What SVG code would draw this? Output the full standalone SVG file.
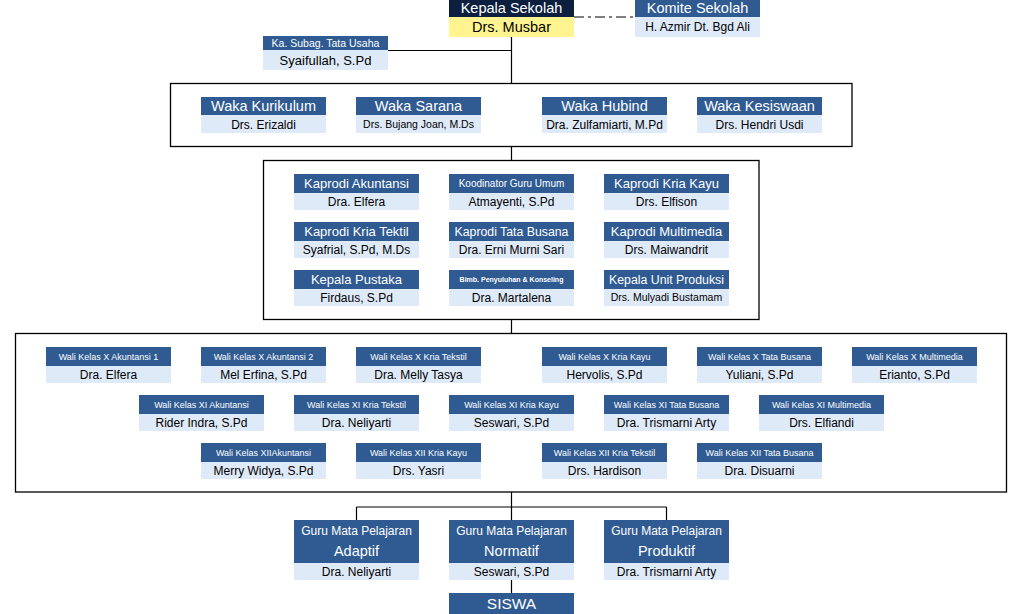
<svg xmlns="http://www.w3.org/2000/svg" width="1023" height="614" viewBox="0 0 1023 614">
<style>
.hd{fill:#2f5b92}
.bd{fill:#dfeaf8}
.frame{fill:none;stroke:#000;stroke-width:1.3}
.ln{fill:none;stroke:#000;stroke-width:1.2}
text{font-family:"Liberation Sans",Arial,sans-serif;text-anchor:middle}
.ht{fill:#fff}
.bt{fill:#000}
.h145{font-size:14.5px}
.h13{font-size:13px}
.b12{font-size:12px}
.w9{font-size:9px}
</style>
<rect width="1023" height="614" fill="#fff"/>
<g id="containers">
<rect class="frame" x="170.5" y="83.5" width="681.5" height="63"/>
<rect class="frame" x="263.5" y="160.5" width="495.5" height="159"/>
<rect class="frame" x="15.5" y="333.5" width="991" height="158.5"/>
</g>
<g id="connectors">
<path class="ln" d="M511.5 37V83.5M388 50.5H511.5M511.5 146.5V160.5M511.5 319.5V333.5M511.5 492V520M356.5 507H666.5M356.5 507V520M666.5 507V520M511.5 580V593"/>
<path class="ln" d="M574 17H635" stroke-dasharray="10,4,3,4"/>
</g>
<g id="kepala-sekolah">
<rect x="449" y="0" width="125" height="17" fill="#0c1f3f"/>
<rect x="449" y="17" width="125" height="20" fill="#fff48f"/>
<text class="ht h145" x="511.5" y="13">Kepala Sekolah</text>
<text class="bt h145" x="511.5" y="32">Drs. Musbar</text>
</g>
<g id="komite-sekolah">
<rect class="hd" x="635" y="0" width="125" height="17"/>
<rect class="bd" x="635" y="17" width="125" height="20"/>
<text class="ht h145" x="697.5" y="13">Komite Sekolah</text>
<text class="bt b12" x="697.5" y="31">H. Azmir Dt. Bgd Ali</text>
</g>
<g id="ka-subag">
<rect class="hd" x="263" y="36" width="125" height="14"/>
<rect class="bd" x="263" y="50" width="125" height="20"/>
<text class="ht" style="font-size:10.5px" x="325.5" y="47">Ka. Subag. Tata Usaha</text>
<text class="bt h13" x="325.5" y="64.5">Syaifullah, S.Pd</text>
</g>
<g id="waka-kurikulum">
<rect class="hd" x="201" y="97" width="125" height="18"/>
<rect class="bd" x="201" y="115" width="125" height="18"/>
<text class="ht h145" x="263.5" y="111">Waka Kurikulum</text>
<text class="bt b12" x="263.5" y="128.5">Drs. Erizaldi</text>
</g>
<g id="waka-sarana">
<rect class="hd" x="356" y="97" width="125" height="18"/>
<rect class="bd" x="356" y="115" width="125" height="18"/>
<text class="ht h145" x="418.5" y="111">Waka Sarana</text>
<text class="bt" style="font-size:10.5px" x="418.5" y="128">Drs. Bujang Joan, M.Ds</text>
</g>
<g id="waka-hubind">
<rect class="hd" x="542" y="97" width="125" height="18"/>
<rect class="bd" x="542" y="115" width="125" height="18"/>
<text class="ht h145" x="604.5" y="111">Waka Hubind</text>
<text class="bt b12" x="604.5" y="128.5">Dra. Zulfamiarti, M.Pd</text>
</g>
<g id="waka-kesiswaan">
<rect class="hd" x="697" y="97" width="125" height="18"/>
<rect class="bd" x="697" y="115" width="125" height="18"/>
<text class="ht h145" x="759.5" y="111">Waka Kesiswaan</text>
<text class="bt b12" x="759.5" y="128.5">Drs. Hendri Usdi</text>
</g>
<g id="kaprodi-akuntansi">
<rect class="hd" x="294" y="174" width="125" height="19"/>
<rect class="bd" x="294" y="193" width="125" height="17"/>
<text class="ht h13" x="356.5" y="188">Kaprodi Akuntansi</text>
<text class="bt b12" x="356.5" y="205.5">Dra. Elfera</text>
</g>
<g id="koordinator-guru-umum">
<rect class="hd" x="449" y="174" width="125" height="19"/>
<rect class="bd" x="449" y="193" width="125" height="17"/>
<text class="ht" style="font-size:10px" x="511.5" y="187">Koodinator Guru Umum</text>
<text class="bt b12" x="511.5" y="205.5">Atmayenti, S.Pd</text>
</g>
<g id="kaprodi-kria-kayu">
<rect class="hd" x="604" y="174" width="125" height="19"/>
<rect class="bd" x="604" y="193" width="125" height="17"/>
<text class="ht h13" x="666.5" y="188">Kaprodi Kria Kayu</text>
<text class="bt b12" x="666.5" y="205.5">Drs. Elfison</text>
</g>
<g id="kaprodi-kria-tektil">
<rect class="hd" x="294" y="222" width="125" height="19"/>
<rect class="bd" x="294" y="241" width="125" height="17"/>
<text class="ht h13" x="356.5" y="236">Kaprodi Kria Tektil</text>
<text class="bt b12" x="356.5" y="253.5">Syafrial, S.Pd, M.Ds</text>
</g>
<g id="kaprodi-tata-busana">
<rect class="hd" x="449" y="222" width="125" height="19"/>
<rect class="bd" x="449" y="241" width="125" height="17"/>
<text class="ht" style="font-size:12.3px" x="511.5" y="236">Kaprodi Tata Busana</text>
<text class="bt b12" x="511.5" y="253.5">Dra. Erni Murni Sari</text>
</g>
<g id="kaprodi-multimedia">
<rect class="hd" x="604" y="222" width="125" height="19"/>
<rect class="bd" x="604" y="241" width="125" height="17"/>
<text class="ht h13" x="666.5" y="236">Kaprodi Multimedia</text>
<text class="bt b12" x="666.5" y="253.5">Drs. Maiwandrit</text>
</g>
<g id="kepala-pustaka">
<rect class="hd" x="294" y="270" width="125" height="19"/>
<rect class="bd" x="294" y="289" width="125" height="17"/>
<text class="ht h13" x="356.5" y="284">Kepala Pustaka</text>
<text class="bt b12" x="356.5" y="301.5">Firdaus, S.Pd</text>
</g>
<g id="bimbingan-konseling">
<rect class="hd" x="449" y="270" width="125" height="19"/>
<rect class="bd" x="449" y="289" width="125" height="17"/>
<text class="ht" style="font-size:7px;font-weight:bold" x="511.5" y="282">Bimb. Penyuluhan &amp; Konseling</text>
<text class="bt b12" x="511.5" y="301.5">Dra. Martalena</text>
</g>
<g id="kepala-unit-produksi">
<rect class="hd" x="604" y="270" width="125" height="19"/>
<rect class="bd" x="604" y="289" width="125" height="17"/>
<text class="ht" style="font-size:12.3px" x="666.5" y="284">Kepala Unit Produksi</text>
<text class="bt" style="font-size:10.5px" x="666.5" y="301">Drs. Mulyadi Bustamam</text>
</g>
<g id="wali-x-akuntansi-1">
<rect class="hd" x="46" y="347" width="125" height="19"/>
<rect class="bd" x="46" y="366" width="125" height="17"/>
<text class="ht w9" x="108.5" y="360">Wali Kelas X Akuntansi 1</text>
<text class="bt b12" x="108.5" y="379">Dra. Elfera</text>
</g>
<g id="wali-x-akuntansi-2">
<rect class="hd" x="201" y="347" width="125" height="19"/>
<rect class="bd" x="201" y="366" width="125" height="17"/>
<text class="ht w9" x="263.5" y="360">Wali Kelas X Akuntansi 2</text>
<text class="bt b12" x="263.5" y="379">Mel Erfina, S.Pd</text>
</g>
<g id="wali-x-kria-tekstil">
<rect class="hd" x="356" y="347" width="125" height="19"/>
<rect class="bd" x="356" y="366" width="125" height="17"/>
<text class="ht w9" x="418.5" y="360">Wali Kelas X Kria Tekstil</text>
<text class="bt b12" x="418.5" y="379">Dra. Melly Tasya</text>
</g>
<g id="wali-x-kria-kayu">
<rect class="hd" x="542" y="347" width="125" height="19"/>
<rect class="bd" x="542" y="366" width="125" height="17"/>
<text class="ht w9" x="604.5" y="360">Wali Kelas X Kria Kayu</text>
<text class="bt b12" x="604.5" y="379">Hervolis, S.Pd</text>
</g>
<g id="wali-x-tata-busana">
<rect class="hd" x="697" y="347" width="125" height="19"/>
<rect class="bd" x="697" y="366" width="125" height="17"/>
<text class="ht w9" x="759.5" y="360">Wali Kelas X Tata Busana</text>
<text class="bt b12" x="759.5" y="379">Yuliani, S.Pd</text>
</g>
<g id="wali-x-multimedia">
<rect class="hd" x="852" y="347" width="125" height="19"/>
<rect class="bd" x="852" y="366" width="125" height="17"/>
<text class="ht w9" x="914.5" y="360">Wali Kelas X Multimedia</text>
<text class="bt b12" x="914.5" y="379">Erianto, S.Pd</text>
</g>
<g id="wali-xi-akuntansi">
<rect class="hd" x="139" y="395" width="125" height="19"/>
<rect class="bd" x="139" y="414" width="125" height="17"/>
<text class="ht w9" x="201.5" y="408">Wali Kelas XI Akuntansi</text>
<text class="bt b12" x="201.5" y="427">Rider Indra, S.Pd</text>
</g>
<g id="wali-xi-kria-tekstil">
<rect class="hd" x="294" y="395" width="125" height="19"/>
<rect class="bd" x="294" y="414" width="125" height="17"/>
<text class="ht w9" x="356.5" y="408">Wali Kelas XI Kria Tekstil</text>
<text class="bt b12" x="356.5" y="427">Dra. Neliyarti</text>
</g>
<g id="wali-xi-kria-kayu">
<rect class="hd" x="449" y="395" width="125" height="19"/>
<rect class="bd" x="449" y="414" width="125" height="17"/>
<text class="ht w9" x="511.5" y="408">Wali Kelas XI Kria Kayu</text>
<text class="bt b12" x="511.5" y="427">Seswari, S.Pd</text>
</g>
<g id="wali-xi-tata-busana">
<rect class="hd" x="604" y="395" width="125" height="19"/>
<rect class="bd" x="604" y="414" width="125" height="17"/>
<text class="ht w9" x="666.5" y="408">Wali Kelas XI Tata Busana</text>
<text class="bt b12" x="666.5" y="427">Dra. Trismarni Arty</text>
</g>
<g id="wali-xi-multimedia">
<rect class="hd" x="759" y="395" width="125" height="19"/>
<rect class="bd" x="759" y="414" width="125" height="17"/>
<text class="ht w9" x="821.5" y="408">Wali Kelas XI Multimedia</text>
<text class="bt b12" x="821.5" y="427">Drs. Elfiandi</text>
</g>
<g id="wali-xii-akuntansi">
<rect class="hd" x="201" y="443" width="125" height="19"/>
<rect class="bd" x="201" y="462" width="125" height="17"/>
<text class="ht w9" x="263.5" y="456">Wali Kelas XIIAkuntansi</text>
<text class="bt b12" x="263.5" y="475">Merry Widya, S.Pd</text>
</g>
<g id="wali-xii-kria-kayu">
<rect class="hd" x="356" y="443" width="125" height="19"/>
<rect class="bd" x="356" y="462" width="125" height="17"/>
<text class="ht w9" x="418.5" y="456">Wali Kelas XII Kria Kayu</text>
<text class="bt b12" x="418.5" y="475">Drs. Yasri</text>
</g>
<g id="wali-xii-kria-tekstil">
<rect class="hd" x="542" y="443" width="125" height="19"/>
<rect class="bd" x="542" y="462" width="125" height="17"/>
<text class="ht w9" x="604.5" y="456">Wali Kelas XII Kria Tekstil</text>
<text class="bt b12" x="604.5" y="475">Drs. Hardison</text>
</g>
<g id="wali-xii-tata-busana">
<rect class="hd" x="697" y="443" width="125" height="19"/>
<rect class="bd" x="697" y="462" width="125" height="17"/>
<text class="ht w9" x="759.5" y="456">Wali Kelas XII Tata Busana</text>
<text class="bt b12" x="759.5" y="475">Dra. Disuarni</text>
</g>
<g id="guru-adaptif">
<rect class="hd" x="294" y="520" width="125" height="43"/>
<rect class="bd" x="294" y="563" width="125" height="17"/>
<text class="ht b12" x="356.5" y="534.5">Guru Mata Pelajaran</text>
<text class="ht h145" x="356.5" y="556">Adaptif</text>
<text class="bt b12" x="356.5" y="575.5">Dra. Neliyarti</text>
</g>
<g id="guru-normatif">
<rect class="hd" x="449" y="520" width="125" height="43"/>
<rect class="bd" x="449" y="563" width="125" height="17"/>
<text class="ht b12" x="511.5" y="534.5">Guru Mata Pelajaran</text>
<text class="ht h145" x="511.5" y="556">Normatif</text>
<text class="bt b12" x="511.5" y="575.5">Seswari, S.Pd</text>
</g>
<g id="guru-produktif">
<rect class="hd" x="604" y="520" width="125" height="43"/>
<rect class="bd" x="604" y="563" width="125" height="17"/>
<text class="ht b12" x="666.5" y="534.5">Guru Mata Pelajaran</text>
<text class="ht h145" x="666.5" y="556">Produktif</text>
<text class="bt b12" x="666.5" y="575.5">Dra. Trismarni Arty</text>
</g>
<g id="siswa">
<rect class="hd" x="449" y="593" width="125" height="21"/>
<text class="ht" style="font-size:15.5px" x="511.5" y="609">SISWA</text>
</g>
</svg>
